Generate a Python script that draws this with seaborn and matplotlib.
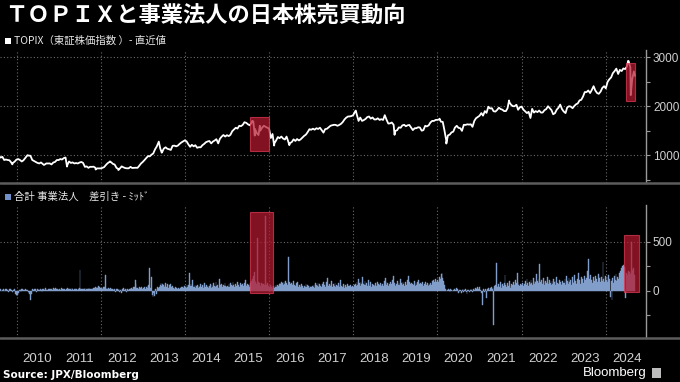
import matplotlib
matplotlib.use("Agg")
import numpy as np
import pandas as pd
import seaborn as sns
import matplotlib.pyplot as plt
from matplotlib.patches import Rectangle
from matplotlib.lines import Line2D

# ---------------- DATA ----------------
title = "ＴＯＰＩＸと事業法人の日本株売買動向"
legend_top = "TOPIX（東証株価指数 ）- 直近値"
legend_bot = "合計 事業法人　差引き - ﾐｯﾄﾞ"
source = "Source: JPX/Bloomberg"
years = list(range(2010, 2025))
year_labels = [str(y) for y in years]

# TOPIX month-end values (month 1..12)
topix_2009 = {8: 965, 9: 910, 10: 895, 11: 840, 12: 908}
topix_2010 = [901, 894, 979, 987, 880, 841, 850, 804, 829, 810, 860, 899]
topix_2011 = [910, 951, 870, 851, 838, 849, 841, 770, 761, 764, 729, 729]
topix_2012 = [755, 835, 854, 808, 719, 770, 736, 731, 737, 742, 781, 860]
topix_2013 = [940, 975, 1034, 1176, 1136, 1133, 1131, 1106, 1194, 1194, 1258, 1302]
topix_2014 = [1221, 1211, 1203, 1162, 1202, 1263, 1289, 1277, 1326, 1333, 1411, 1408]
topix_2015 = [1415, 1523, 1543, 1592, 1673, 1630, 1659, 1537, 1411, 1558, 1580, 1547]
topix_2016 = [1432, 1297, 1347, 1340, 1379, 1245, 1322, 1329, 1322, 1393, 1469, 1519]
topix_2017 = [1521, 1535, 1513, 1531, 1568, 1611, 1618, 1617, 1675, 1766, 1792, 1818]
topix_2018 = [1836, 1768, 1716, 1777, 1747, 1730, 1753, 1735, 1817, 1646, 1667, 1494]
topix_2019 = [1567, 1608, 1591, 1617, 1512, 1551, 1565, 1511, 1587, 1667, 1699, 1721]
topix_2020 = [1684, 1510, 1403, 1464, 1563, 1558, 1496, 1618, 1625, 1579, 1754, 1805]
topix_2021 = [1808, 1864, 1954, 1898, 1922, 1943, 1901, 1960, 2030, 2001, 1928, 1992]
topix_2022 = [1896, 1886, 1946, 1900, 1912, 1871, 1940, 1963, 1835, 1929, 2034, 1892]
topix_2023 = [1975, 1993, 2003, 2057, 2131, 2289, 2322, 2332, 2323, 2254, 2374, 2366]
topix_2024 = [2551, 2675, 2769, 2743, 2772, 2810, 2794, 2712]
# TOPIX mid-month values (month 1..12)
topix_mid_2009 = {8: 950, 9: 900, 10: 900, 11: 850, 12: 870}
topix_mid_2010 = [920, 870, 940, 990, 900, 860, 830, 820, 830, 830, 850, 900]
topix_mid_2011 = [920, 940, 800, 840, 830, 830, 860, 760, 740, 760, 740, 730]
topix_mid_2012 = [740, 800, 860, 820, 740, 730, 750, 730, 760, 740, 740, 830]
topix_mid_2013 = [900, 980, 1010, 1120, 1270, 1060, 1160, 1120, 1190, 1180, 1230, 1280]
topix_mid_2014 = [1280, 1170, 1180, 1150, 1160, 1230, 1280, 1240, 1300, 1240, 1380, 1380]
topix_mid_2015 = [1390, 1490, 1560, 1600, 1620, 1660, 1610, 1690, 1450, 1500, 1600, 1560]
topix_mid_2016 = [1350, 1240, 1370, 1380, 1320, 1270, 1270, 1290, 1300, 1360, 1420, 1530]
topix_mid_2017 = [1540, 1550, 1560, 1460, 1540, 1600, 1620, 1600, 1640, 1730, 1790, 1800]
topix_mid_2018 = [1890, 1700, 1700, 1740, 1790, 1770, 1730, 1720, 1720, 1720, 1650, 1620]
topix_mid_2019 = [1510, 1560, 1620, 1610, 1560, 1550, 1570, 1500, 1600, 1610, 1700, 1720]
topix_mid_2020 = [1730, 1680, 1300, 1420, 1480, 1600, 1550, 1620, 1630, 1630, 1700, 1780]
topix_mid_2021 = [1860, 1900, 1990, 1960, 1890, 1970, 1930, 1900, 2080, 2000, 2030, 1980]
topix_mid_2022 = [1930, 1860, 1760, 1870, 1880, 1870, 1920, 2000, 1920, 1860, 1970, 1940]
topix_mid_2023 = [1860, 2000, 1960, 2040, 2120, 2200, 2290, 2270, 2410, 2270, 2300, 2410]
topix_mid_2024 = [2500, 2590, 2720, 2660, 2720, 2760, 2920, 2550]
# intra-month extremes (decimal year, value)
topix_extra_t = [2009.61, 2009.90, 2010.26, 2010.65, 2011.20, 2011.88, 2012.22, 2012.42,
                 2013.38, 2013.45, 2015.60, 2015.66, 2015.78, 2016.12, 2016.48, 2018.06,
                 2018.98, 2020.05, 2020.21, 2021.70, 2024.53, 2024.59, 2024.69]
topix_extra_v = [960, 811, 998, 800, 766, 706, 872, 695,
                 1276, 1050, 1702, 1400, 1600, 1196, 1204, 1911,
                 1415, 1745, 1236, 2118, 2929, 2227, 2620]

# weekly net purchases by business corporations (one list per year, first week offset)
net_offset = {2009: 31}
net_2009 = [8, 12, -5, 10, 15, 6, -8, 12, 20, 9, 5, -10, 14, 18, 7, 10, -12, 6, 15, -30, -45]
net_2010 = [-55, -40, -25, 8, 10, -12, 15, 12, 6, 9, -8, 14, 10, 5, -15, -20, -35, -95, -30, 12,
            10, 8, 15, 20, -10, 12, 18, 6, 10, 22, 9, -14, 15, 12, 8, 25, 18, 10, 6, 14,
            20, 12, -8, 16, 10, 24, 12, 15, 30, 18, 12, 10]
net_2011 = [12, 18, 10, 25, 15, 8, 20, 14, 10, 12, 30, 22, 15, 18, 12, 10, 25, 15, 8, 14,
            20, 12, 16, 10, 18, 30, 210, 20, 15, 22, 12, 18, 25, 10, 14, 16, 20, 30, 18, 12,
            22, 15, 10, 25, 30, 35, 28, 40, 32, 45, 38, 30]
net_2012 = [25, 30, 20, 35, 40, 160, 30, 22, 18, 25, 15, 20, 28, 12, 18, 10, 22, 15, -10, 12,
            20, 8, 15, -18, 10, -22, 12, 18, 25, 10, 14, -12, 20, 15, 8, 22, 18, 30, 25, 20,
            35, 40, 110, 70, 25, 30, 18, 40, 22, 28, 35, 20]
net_2013 = [30, 25, 40, 20, 35, 28, 45, 60, 230, 30, 140, -40, -60, -25, -55, 20, -30, 15, 35, 25,
            40, 55, 80, 45, 70, 60, 35, 50, 75, 40, 65, 30, 55, 45, 70, 38, 50, 25, 30, 20,
            35, 28, 15, 22, 30, 18, 25, 40, 20, 35, 28, 45]
net_2014 = [40, 30, 55, 35, 60, 180, 45, 70, 50, 110, 40, 35, 55, 30, 45, 60, 25, 50, 40, 70,
            35, 55, 30, 45, 80, 40, 60, 35, 50, 25, 45, 65, 30, 55, 40, 75, 50, 35, 90, 45,
            60, 30, 120, 55, 40, 70, 35, 60, 45, 80, 50, 40]
net_2015 = [50, 40, 65, 35, 80, 55, 45, 90, 60, 40, 70, 50, 85, 45, 60, 35, 75, 55, 40, 65,
            50, 80, 109, 60, 45, 70, 55, 40, 60, 80, 95, 120, 150, 194, 110, 85, 70, 535, 90, 60,
            75, 50, 80, 65, 45, 70, 55, 765, 60, 45, 80, 50]
net_2016 = [40, 60, 35, 50, 30, 45, 25, 40, 55, 35, 60, 45, 70, 80, 65, 90, 75, 60, 85, 70,
            95, 80, 60, 347, 75, 90, 65, 80, 55, 70, 100, 60, 45, 75, 50, 85, 40, 60, 35, 55,
            70, 45, 30, 50, 40, 65, 35, 55, 45, 30, 50, 40]
net_2017 = [35, 50, 40, 60, 30, 75, 55, 45, 80, 40, 65, 50, 35, 70, 45, 90, 60, 40, 85, 55,
            130, 50, 70, 45, 60, 95, 40, 65, 50, 80, 35, 60, 45, 75, 40, 55, 110, 50, 35, 65,
            45, 30, 55, 40, 70, 35, 50, 45, 60, 40, 30, 45]
net_2018 = [40, 55, 70, 45, 90, 60, 120, 75, 50, 85, 65, 140, 70, 55, 95, 60, 80, 45, 110, 65,
            50, 85, 40, 70, 55, 60, 45, 75, 50, 90, 40, 65, 55, 80, 45, 60, 70, 50, 100, 130,
            85, 60, 75, 50, 65, 90, 55, 70, 110, 150, 80, 60]
net_2019 = [50, 70, 95, 60, 80, 55, 120, 75, 60, 90, 70, 50, 85, 60, 110, 75, 150, 90, 65, 80,
            55, 70, 60, 95, 50, 75, 60, 85, 110, 70, 55, 80, 65, 90, 50, 70, 60, 85, 55, 75,
            45, 65, 55, 80, 60, 95, 70, 110, 85, 120, 90, 75]
net_2020 = [110, 90, 140, 120, 165, 184, 130, 100, 60, 20, 10, -5, 8, 15, 5, -10, 12, 6, -8, 10,
            4, 15, 8, 30, 12, -20, -15, 10, 5, -25, 8, 12, -10, 6, 15, -18, -35, 10, 5, -12,
            8, 20, 10, -15, 12, 8, 25, 30, 15, 35, 20, 40]
net_2021 = [10, 5, -20, -145, 15, 8, -10, 12, -70, 20, 15, 30, 10, 25, 40, 18, 30, -350, 45, 60,
            280, 50, 35, 70, 40, 90, 55, 30, 65, 45, 80, 160, 60, 40, 75, 50, 95, 45, 30, 70,
            55, 85, 40, 60, 110, 75, 180, 90, 60, 45, 70, 55]
net_2022 = [60, 80, 45, 70, 95, 55, 120, 75, 50, 90, 65, 110, 80, 60, 130, 70, 95, 85, 170, 100,
            75, 120, 272, 90, 110, 70, 130, 85, 60, 100, 75, 140, 90, 65, 110, 80, 55, 95, 70, 120,
            85, 60, 100, 140, 80, 65, 110, 90, 70, 55, 95, 75]
net_2023 = [80, 120, 60, 150, 95, 70, 130, 85, 110, 60, 140, 90, 75, 160, 100, 65, 120, 85, 180, 110,
            70, 140, 95, 120, 80, 150, 105, 90, 130, 200, 320, 120, 95, 160, 110, 80, 140, 100, 75, 150,
            120, 90, 170, 110, 130, 85, 140, 100, 296, 120, 90, 150]
net_2024 = [110, 140, 90, 160, 120, -60, 100, -95, 130, 80, 150, 110, 170, 95, 140, 120, 180, 130,
            200, 230, 250, 262, 240, 220, -75, 180, 160, 200, 150, 190, 170, 500, 210, 180, 230, 160]

# highlight boxes: (x0, x1, y0, y1)
box_top = [(2015.55, 2016.00, 1085, 1780), (2024.48, 2024.69, 2105, 2880)]
box_bot = [(2015.55, 2016.10, -27, 800), (2024.42, 2024.78, -10, 568)]

# ---------------- BUILD TABLES ----------------
t_list, v_list = [], []
for m, v in topix_2009.items():
    t_list.append(2009 + m / 12 - 0.002); v_list.append(v)
for m, v in topix_mid_2009.items():
    t_list.append(2009 + (m - 0.5) / 12); v_list.append(v)
ends = [(2010, topix_2010), (2011, topix_2011), (2012, topix_2012), (2013, topix_2013),
        (2014, topix_2014), (2015, topix_2015), (2016, topix_2016), (2017, topix_2017),
        (2018, topix_2018), (2019, topix_2019), (2020, topix_2020), (2021, topix_2021),
        (2022, topix_2022), (2023, topix_2023), (2024, topix_2024)]
mids = [(2010, topix_mid_2010), (2011, topix_mid_2011), (2012, topix_mid_2012),
        (2013, topix_mid_2013), (2014, topix_mid_2014), (2015, topix_mid_2015),
        (2016, topix_mid_2016), (2017, topix_mid_2017), (2018, topix_mid_2018),
        (2019, topix_mid_2019), (2020, topix_mid_2020), (2021, topix_mid_2021),
        (2022, topix_mid_2022), (2023, topix_mid_2023), (2024, topix_mid_2024)]
for yr, arr in ends:
    for i, v in enumerate(arr):
        t_list.append(yr + (i + 1) / 12 - 0.002); v_list.append(v)
for yr, arr in mids:
    for i, v in enumerate(arr):
        t_list.append(yr + (i + 0.5) / 12); v_list.append(v)
t_list += topix_extra_t
v_list += topix_extra_v
topix = pd.DataFrame({"t": t_list, "v": v_list}).sort_values("t")

nt, nv = [], []
for yr, arr in [(2009, net_2009), (2010, net_2010), (2011, net_2011), (2012, net_2012),
                (2013, net_2013), (2014, net_2014), (2015, net_2015), (2016, net_2016),
                (2017, net_2017), (2018, net_2018), (2019, net_2019), (2020, net_2020),
                (2021, net_2021), (2022, net_2022), (2023, net_2023), (2024, net_2024)]:
    off = net_offset.get(yr, 0)
    for i, v in enumerate(arr):
        nt.append(yr + (off + i + 0.5) / 52); nv.append(v)
net = pd.DataFrame({"t": nt, "v": nv})

# ---------------- STYLE ----------------
sns.set_theme(style="dark")
plt.rcParams["font.family"] = ["Noto Sans CJK JP", "DejaVu Sans"]
BG = "black"
GRID = "#6a6a6a"
TICKC = "#d0d0d0"
BAR = "#819dc9"

W, H = 680, 382
fig = plt.figure(figsize=(6.8, 3.82), dpi=100, facecolor=BG)
ax1 = fig.add_axes([0, 1 - 183 / H, 646 / W, 133 / H])
ax2 = fig.add_axes([0, 1 - 338 / H, 646 / W, 133 / H])
xlim = (2009.608, 2024.953)

for ax in (ax1, ax2):
    ax.set_facecolor(BG)
    ax.set_xlim(*xlim)
    for s in ("top", "left", "bottom"):
        ax.spines[s].set_visible(False)
    ax.spines["right"].set_color("#9a9a9a")
    ax.spines["right"].set_linewidth(1.0)
    ax.yaxis.tick_right()
    ax.tick_params(axis="y", which="both", colors="#9a9a9a", labelcolor=TICKC,
                   direction="out", length=3, width=0.8, pad=2, labelsize=8.5)
    ax.grid(False)
    for yv in range(2010, 2025, 2):
        ax.axvline(yv, color=GRID, lw=0.8, ls=(0, (1, 2)), zorder=1)

# top panel
sns.lineplot(data=topix, x="t", y="v", ax=ax1, color="white", linewidth=1.3,
             estimator=None, sort=True, zorder=3)
ax1.set_ylim(430, 3150)
ax1.set_yticks([1000, 2000, 3000])
ax1.set_yticks([500, 1500, 2500], minor=True)
for yv in [1000, 2000, 3000]:
    ax1.axhline(yv, color=GRID, lw=0.8, ls=(0, (1, 2)), zorder=1)
ax1.set_xticks([])
ax1.set_xlabel(""); ax1.set_ylabel("")

# bottom panel
ax2.bar(net["t"], net["v"], width=1 / 52, color=BAR, edgecolor=BAR, linewidth=0.3, zorder=3)
ax2.set_ylim(-483, 874)
ax2.set_yticks([0, 500])
ax2.set_yticks([-250, 250], minor=True)
ax2.axhline(500, color=GRID, lw=0.8, ls=(0, (1, 2)), zorder=1)
ax2.set_xticks(years)
ax2.set_xticklabels([])
ax2.set_xticks([y + 0.5 for y in years], minor=True)
ax2.set_xticklabels(year_labels, minor=True)
ax2.tick_params(axis="x", which="major", length=17, width=0.9, color="#7a7a7a", direction="out")
ax2.tick_params(axis="x", which="minor", length=0, pad=11, labelsize=9.5, labelcolor=TICKC)
for lab in ax2.get_xticklabels(minor=True):
    lab.set_family("Liberation Sans")
for lab in ax1.get_yticklabels() + ax2.get_yticklabels():
    lab.set_family("Liberation Sans")
ax2.set_xlabel(""); ax2.set_ylabel("")

# highlight boxes
for ax, boxes in ((ax1, box_top), (ax2, box_bot)):
    for x0, x1, y0, y1 in boxes:
        ax.add_patch(Rectangle((x0, y0), x1 - x0, y1 - y0, facecolor="#b51a30", alpha=0.72,
                               edgecolor="#e03a55", linewidth=0.8, zorder=4))

# separators
for yy in (183, 338):
    fig.add_artist(Line2D([0, 1], [1 - yy / H, 1 - yy / H], transform=fig.transFigure,
                          color="#5c5c5c", lw=1.8))

# texts
fig.text(5 / W, 1 - 16 / H, title, color="white", fontsize=16, fontweight="bold",
         va="center", ha="left")
fig.add_artist(Rectangle((5 / W, 1 - 44 / H), 6 / W, 6 / H, transform=fig.transFigure,
                         facecolor="white", edgecolor="none"))
fig.text(14 / W, 1 - 41 / H, legend_top, color="#e6e6e6", fontsize=7.5, va="center", ha="left")
fig.add_artist(Rectangle((5 / W, 1 - 200 / H), 6 / W, 6 / H, transform=fig.transFigure,
                         facecolor="#6f90c8", edgecolor="none"))
fig.text(14 / W, 1 - 197 / H, legend_bot, color="#e6e6e6", fontsize=7.5, va="center", ha="left")
fig.text(3 / W, 1 - 375 / H, source, color="white", fontsize=7.5, fontweight="bold",
         va="center", ha="left", family="DejaVu Sans")
fig.text(647 / W, 1 - 373 / H, "Bloomberg", color="white", fontsize=9.5, va="center",
         ha="right", family="Liberation Sans")
fig.add_artist(Rectangle((652 / W, 1 - 378 / H), 9 / W, 10 / H, transform=fig.transFigure,
                         facecolor="#bdbdbd", edgecolor="none"))

fig.savefig("out.png", dpi=100, facecolor=BG)
